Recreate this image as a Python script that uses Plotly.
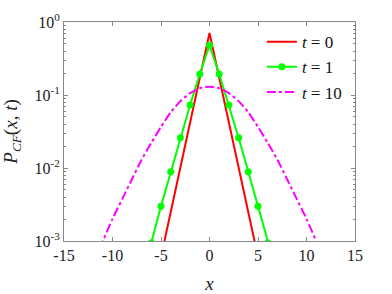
import plotly.graph_objects as go

# t = 0 (red, solid)
x_t0 = [-6, -5, -4, -3, -2, -1, 0, 1, 2, 3, 4, 5, 6]
p_t0 = [0.000147, 0.000605, 0.00248, 0.0102, 0.0419, 0.172, 0.707,
        0.172, 0.0419, 0.0102, 0.00248, 0.000605, 0.000147]

# t = 1 (green, dots)
x_t1 = [-7, -6, -5, -4, -3, -2, -1, 0, 1, 2, 3, 4, 5, 6, 7]
p_t1 = [0.00034, 0.00095, 0.0030, 0.0089, 0.026, 0.073, 0.194, 0.48,
        0.194, 0.073, 0.026, 0.0089, 0.0030, 0.00095, 0.00034]

# t = 10 (magenta, dash-dot)
x_t10 = list(range(-12, 13))
p_t10 = [0.00046, 0.00099, 0.00201, 0.00375, 0.0070, 0.0130, 0.0221, 0.0366,
         0.0578, 0.0824, 0.106, 0.124, 0.130, 0.124, 0.106, 0.0824, 0.0578,
         0.0366, 0.0221, 0.0130, 0.0070, 0.00375, 0.00201, 0.00099, 0.00046]

serif = "Liberation Serif, Times New Roman, Times, serif"

fig = go.Figure()
fig.add_trace(go.Scatter(x=x_t0, y=p_t0, mode="lines", name="<i>t</i> = 0",
                         line=dict(color="#ff0000", width=2)))
fig.add_trace(go.Scatter(x=x_t1, y=p_t1, mode="lines+markers", name="<i>t</i> = 1",
                         line=dict(color="#00ff00", width=2),
                         marker=dict(color="#00ff00", size=7)))
fig.add_trace(go.Scatter(x=x_t10, y=p_t10, mode="lines", name="<i>t</i> = 10",
                         line=dict(color="#ff00ff", width=2, dash="dashdot", shape="spline",
                                   smoothing=0.6)))

axis_common = dict(showline=True, linecolor="#888888", linewidth=1, mirror="ticks",
                   ticks="inside", tickcolor="#888888", ticklen=4, showgrid=False,
                   zeroline=False, automargin=False,
                   tickfont=dict(family=serif, size=16, color="#222222"))

fig.update_xaxes(range=[-15, 15], tickvals=[-15, -10, -5, 0, 5, 10, 15],
                 ticktext=["-15", "-10", "-5", "0", "5", "10", "15"],
                 title=dict(text="<i>x</i>", font=dict(family=serif, size=19, color="#222222")),
                 **axis_common)
fig.update_yaxes(type="log", range=[-3, 0], tickvals=[0.001, 0.01, 0.1, 1],
                 ticktext=["10<sup>-3</sup>", "10<sup>-2</sup>", "10<sup>-1</sup>", "10<sup>0</sup>"],
                 minor=dict(ticks="inside", ticklen=2, tickcolor="#888888",
                            tickvals=[m * 10 ** e for e in (-3, -2, -1) for m in range(2, 10)]),
                 title=dict(text="<i>P</i><sub><i>CF</i></sub>(<i>x</i>, <i>t</i>)",
                            font=dict(family=serif, size=19, color="#222222")),
                 **axis_common)

fig.update_layout(width=392, height=294, margin=dict(l=64, r=37, t=22, b=53),
                  paper_bgcolor="white", plot_bgcolor="white",
                  legend=dict(x=0.68, y=0.99, xanchor="left", yanchor="top",
                              bgcolor="rgba(0,0,0,0)", itemwidth=30,
                              font=dict(family=serif, size=17, color="#111111")),
                  showlegend=True)

fig.write_html("out.html", config={"displayModeBar": False},
               post_script="document.body.style.margin='0px';")
